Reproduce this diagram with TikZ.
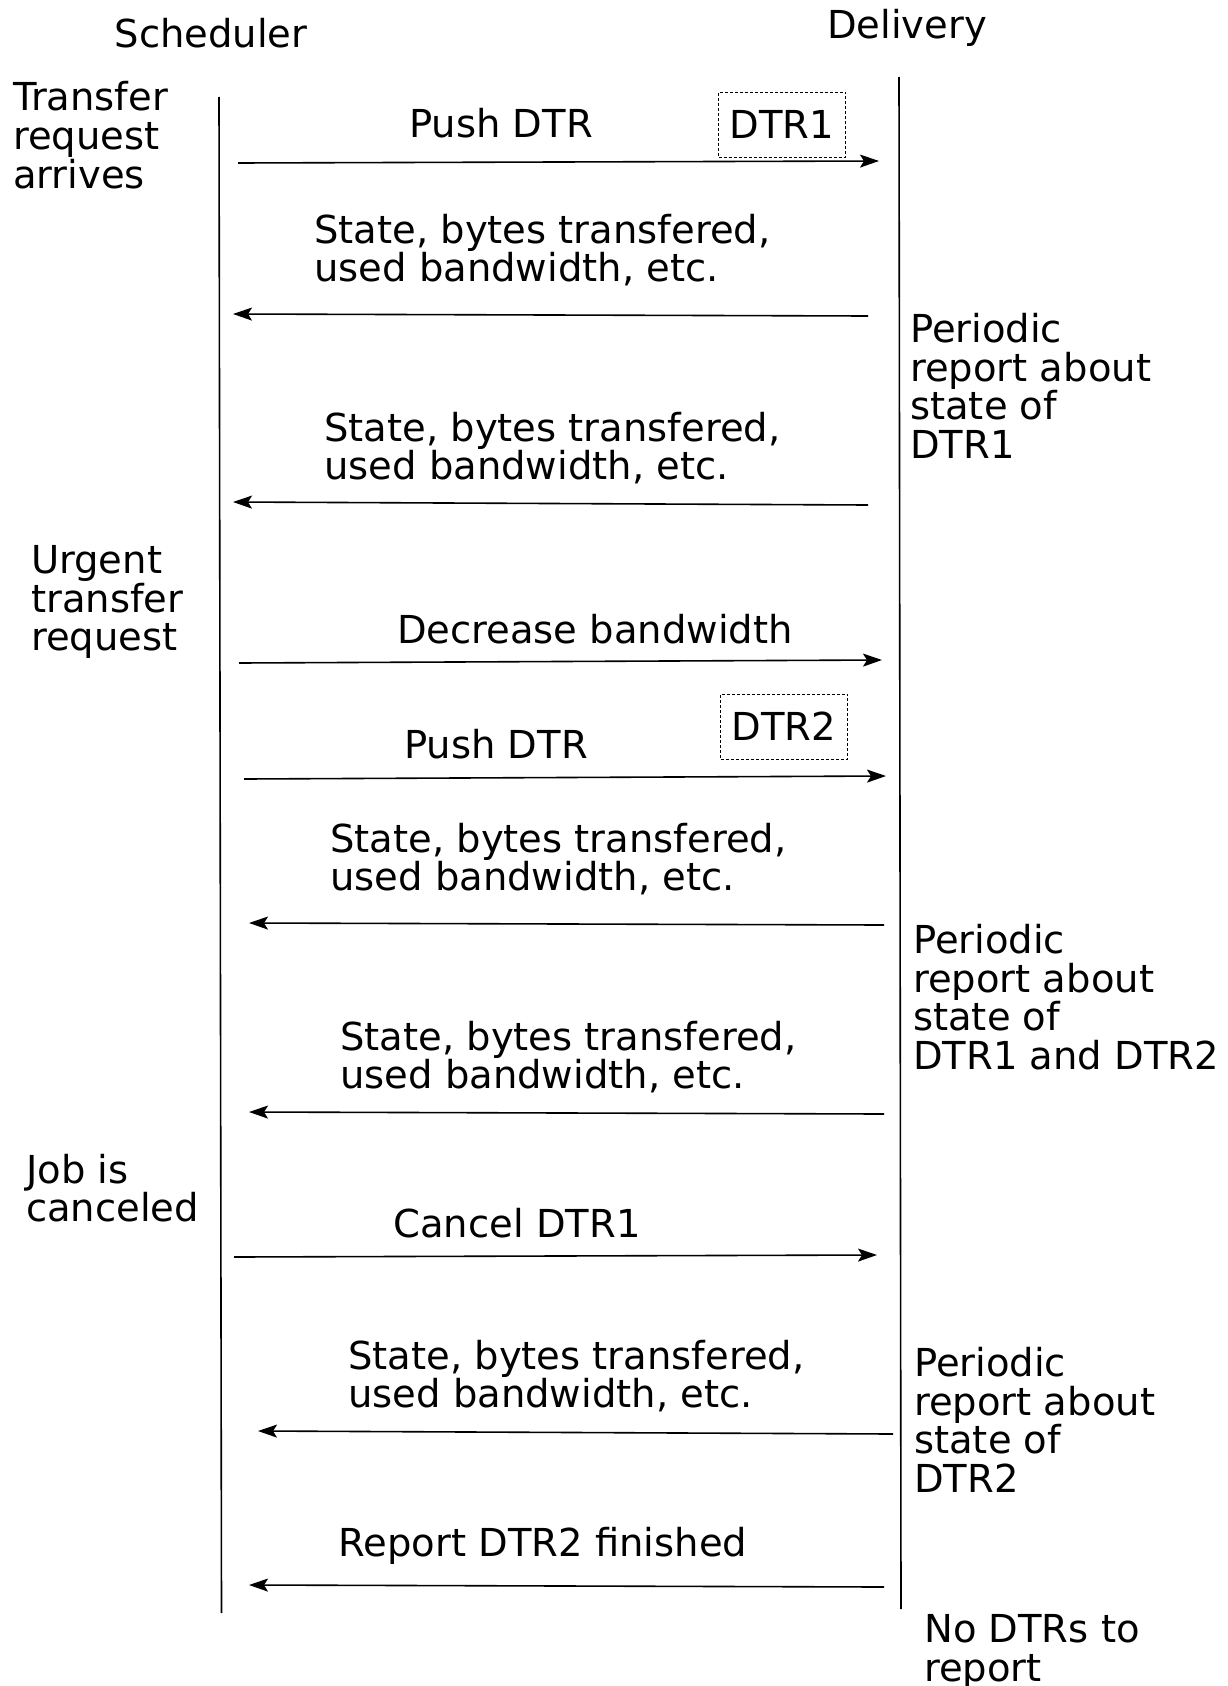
\documentclass[tikz,border=0pt]{standalone}
\usepackage{fontspec}
\setmainfont{DejaVu Sans}
\usetikzlibrary{arrows.meta}
\begin{document}
\begin{tikzpicture}[x=1pt,y=-1pt,
  txt/.style={font=\fontsize{38.5}{38.7}\selectfont, inner sep=0pt},
  multi/.style={txt, align=left, anchor=west},
  life/.style={line width=1.6pt},
  msg/.style={line width=1.6pt, -{Stealth[length=19pt,width=13pt,inset=4pt]}},
  dtrbox/.style={txt, draw, densely dashed, line width=0.9pt, minimum width=127pt, minimum height=65pt}]
\useasboundingbox (0,0) rectangle (1228,1686);
% headers
\node[txt] (sched) at (211,33) {Scheduler};
\node[txt] (deliv) at (907,28) {Delivery};
% lifelines
\coordinate (sTop) at (219,97);
\coordinate (sBot) at (221.5,1613);
\coordinate (dTop) at (899,77);
\coordinate (dBot) at (901,1609);
\draw[life] (sTop) -- (sBot);
\draw[life] (dTop) -- (dBot);
% side notes
\node[multi] (n1) at (13,135) {Transfer\\request\\arrives};
\node[multi] (n2) at (31,602) {Urgent\\transfer\\request};
\node[multi] (n3) at (26,1188) {Job is\\canceled};
\node[multi] (r1) at (910,386) {Periodic\\report about\\state of\\DTR1};
\node[multi] (r2) at (913,997) {Periodic\\report about\\state of\\DTR1 and DTR2};
\node[multi] (r3) at (914,1420) {Periodic\\report about\\state of\\DTR2};
\node[multi] (r4) at (924,1652) {No DTRs to\\report};
% message 1
\coordinate (a1s) at (238,163); \coordinate (a1e) at (879,161);
\draw[msg] (a1s) -- (a1e);
\node[txt] (l1) at (501,123) {Push DTR};
\node[dtrbox] (dtr1) at (782,124.5) {DTR1};
% message 2
\coordinate (a2s) at (868,316); \coordinate (a2e) at (233,314);
\draw[msg] (a2s) -- (a2e);
\node[multi] (l2) at (314,250) {State, bytes transfered,\\used bandwidth, etc.};
% message 3
\coordinate (a3s) at (868,505); \coordinate (a3e) at (233,502);
\draw[msg] (a3s) -- (a3e);
\node[multi] (l3) at (324,448) {State, bytes transfered,\\used bandwidth, etc.};
% message 4
\coordinate (a4s) at (239,663); \coordinate (a4e) at (882,660);
\draw[msg] (a4s) -- (a4e);
\node[txt] (l4) at (595,629) {Decrease bandwidth};
% message 5
\coordinate (a5s) at (244,779); \coordinate (a5e) at (886,776);
\draw[msg] (a5s) -- (a5e);
\node[txt] (l5) at (496,744) {Push DTR};
\node[dtrbox] (dtr2) at (784,726.5) {DTR2};
% message 6
\coordinate (a6s) at (884,925); \coordinate (a6e) at (249,923);
\draw[msg] (a6s) -- (a6e);
\node[multi] (l6) at (330,859) {State, bytes transfered,\\used bandwidth, etc.};
% message 7
\coordinate (a7s) at (884,1114); \coordinate (a7e) at (249,1112);
\draw[msg] (a7s) -- (a7e);
\node[multi] (l7) at (340,1057) {State, bytes transfered,\\used bandwidth, etc.};
% message 8
\coordinate (a8s) at (234,1257); \coordinate (a8e) at (877,1255);
\draw[msg] (a8s) -- (a8e);
\node[txt] (l8) at (517,1223) {Cancel DTR1};
% message 9
\coordinate (a9s) at (893,1434); \coordinate (a9e) at (258,1431);
\draw[msg] (a9s) -- (a9e);
\node[multi] (l9) at (348,1376) {State, bytes transfered,\\used bandwidth, etc.};
% message 10
\coordinate (a10s) at (884,1587); \coordinate (a10e) at (249,1585);
\draw[msg] (a10s) -- (a10e);
\node[txt] (l10) at (543,1546) {Report DTR2 finished};
\end{tikzpicture}
\end{document}
